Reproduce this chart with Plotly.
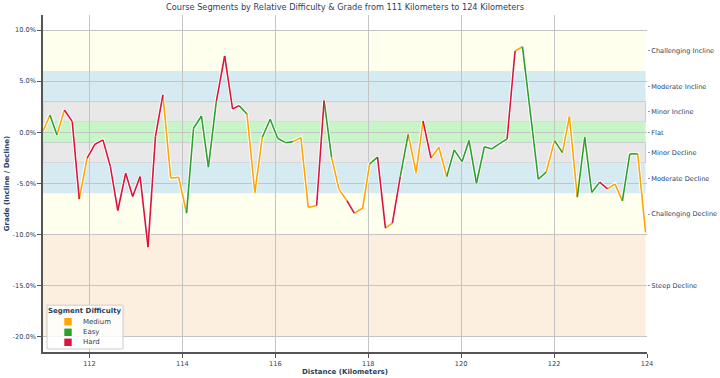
import plotly.graph_objects as go

# ---- data ----
distance_km = [111.00, 111.15, 111.30, 111.46, 111.63, 111.78, 111.95, 112.12, 112.29, 112.45,
               112.61, 112.78, 112.93, 113.09, 113.26, 113.42, 113.58, 113.75, 113.92, 114.09,
               114.24, 114.41, 114.56, 114.73, 114.91, 115.08, 115.22, 115.39, 115.56, 115.72,
               115.89, 116.05, 116.22, 116.38, 116.55, 116.71, 116.89, 117.05, 117.21, 117.37,
               117.54, 117.70, 117.88, 118.03, 118.20, 118.37, 118.52, 118.69, 118.86, 119.03,
               119.18, 119.35, 119.52, 119.69, 119.85, 120.02, 120.17, 120.33, 120.50, 120.66,
               120.82, 120.99, 121.16, 121.32, 121.66, 121.83, 122.01, 122.18, 122.33, 122.50,
               122.66, 122.81, 122.98, 123.15, 123.31, 123.47, 123.63, 123.80, 123.97]
grade_pct = [0.1, 1.69, -0.26, 2.18, 1.04, -6.55, -2.54, -1.17, -0.75, -3.36,
             -7.66, -4.01, -6.29, -4.34, -11.24, -0.43, 3.65, -4.5, -4.4, -7.92,
             0.39, 1.59, -3.42, 2.99, 7.46, 2.28, 2.6, 1.79, -5.9, -0.49,
             1.27, -0.59, -1.02, -0.92, -0.53, -7.37, -7.17, 3.09, -2.44, -5.57,
             -6.69, -7.92, -7.43, -3.1, -2.44, -9.38, -8.9, -4.34, -0.2, -3.95,
             1.1, -2.54, -1.47, -4.34, -1.73, -2.87, -0.82, -4.99, -1.41, -1.63,
             -1.14, -0.65, 7.95, 8.37, -4.6, -3.91, -0.82, -1.99, 1.52, -6.35,
             -0.49, -5.89, -4.89, -5.54, -5.05, -6.72, -2.12, -2.12, -9.81]
# difficulty of each segment (from point i to point i+1)
segment_difficulty = ["Medium", "Easy", "Medium", "Hard", "Hard", "Medium", "Hard", "Hard", "Hard", "Hard",
                      "Hard", "Hard", "Hard", "Hard", "Hard", "Hard", "Medium", "Medium", "Medium", "Easy",
                      "Easy", "Easy", "Easy", "Hard", "Hard", "Hard", "Easy", "Medium", "Medium", "Easy",
                      "Easy", "Easy", "Easy", "Medium", "Medium", "Medium", "Hard", "Easy", "Medium", "Medium",
                      "Hard", "Medium", "Medium", "Easy", "Hard", "Medium", "Hard", "Easy", "Medium", "Medium",
                      "Hard", "Medium", "Medium", "Easy", "Easy", "Easy", "Easy", "Easy", "Easy", "Easy",
                      "Easy", "Hard", "Medium", "Easy", "Easy", "Medium", "Easy", "Medium", "Medium", "Easy",
                      "Easy", "Easy", "Hard", "Medium", "Medium", "Easy", "Easy", "Medium"]
difficulty_order = ["Medium", "Easy", "Hard"]
difficulty_colors = {"Medium": "#FFA500", "Easy": "#2CA02C", "Hard": "#DC143C"}

band_names = ["Challenging Incline", "Moderate Incline", "Minor Incline", "Flat",
              "Minor Decline", "Moderate Decline", "Challenging Decline", "Steep Decline"]
band_low = [6, 3, 1, -1, -3, -6, -10, -20]
band_high = [10, 6, 3, 1, -1, -3, -6, -10]
band_label_pos = [8, 4.5, 2, 0, -2, -4.5, -8, -15]
band_fill = ["#FFFFEE", "#D5EAF1", "#E8E8E8", "#C8F5C8",
             "#E8E8E8", "#D5EAF1", "#FFFFEE", "#FDEFDF"]

y_ticks = [10, 5, 0, -5, -10, -15, -20]
y_tick_text = ["10.0%", "5.0%", "0.0%", "-5.0%", "-10.0%", "-15.0%", "-20.0%"]
x_ticks = [112, 114, 116, 118, 120, 122, 124]

TXT = "#2a3f5f"
FONT = "DejaVu Sans"
TICK = 6.6

fig = go.Figure()

# white halo underneath the whole line
fig.add_trace(go.Scatter(x=distance_km, y=grade_pct, mode="lines",
                         line=dict(color="white", width=3.5), hoverinfo="skip",
                         showlegend=False))

# coloured segments, grouped by difficulty
for diff in difficulty_order:
    xs, ys = [], []
    for i, d in enumerate(segment_difficulty):
        if d == diff:
            xs += [distance_km[i], distance_km[i + 1], None]
            ys += [grade_pct[i], grade_pct[i + 1], None]
    fig.add_trace(go.Scatter(x=xs, y=ys, mode="lines",
                             line=dict(color=difficulty_colors[diff], width=1.6),
                             showlegend=False, name=diff))

# dummy trace to show the right axis
fig.add_trace(go.Scatter(x=[None], y=[None], yaxis="y2", showlegend=False, hoverinfo="skip"))

# bands
for lo, hi, col, name in zip(band_low, band_high, band_fill, band_names):
    minor = name.startswith("Minor")
    fig.add_shape(type="rect", xref="x", yref="y", x0=111, x1=123.97, y0=lo, y1=hi,
                  fillcolor=col, layer="below",
                  line=dict(color="#C8CCD0" if minor else "rgba(0,0,0,0)", width=1))

# compact legend (box, title, swatches, labels)
fig.add_shape(type="rect", xref="paper", yref="paper", x0=0.0066, x1=0.1325, y0=0.009, y1=0.139,
              fillcolor="rgba(255,255,255,0.85)", line=dict(color="#CCCCCC", width=1), layer="above")
fig.add_annotation(text="<b>Segment Difficulty</b>", xref="paper", yref="paper",
                   x=0.0695, y=0.122, xanchor="center", yanchor="middle", showarrow=False,
                   font=dict(family=FONT, size=7, color=TXT))
legend_y = [0.0899, 0.0585, 0.0288]
for diff, ly in zip(difficulty_order, legend_y):
    fig.add_shape(type="rect", xref="paper", yref="paper", xsizemode="pixel", ysizemode="pixel",
                  xanchor=0.0414, yanchor=ly, x0=-3.7, x1=3.7, y0=-3.7, y1=3.7,
                  fillcolor=difficulty_colors[diff], line=dict(width=0), layer="above")
    fig.add_annotation(text=diff, xref="paper", yref="paper", x=0.0624, y=ly,
                       xanchor="left", yanchor="middle", showarrow=False,
                       font=dict(family=FONT, size=7, color=TXT))

yrange = [-21.5, 11.47]

fig.update_layout(
    width=720, height=378,
    margin=dict(l=43, r=73, t=15, b=26, autoexpand=False),
    paper_bgcolor="white", plot_bgcolor="white",
    font=dict(family=FONT, size=7, color=TXT),
    showlegend=False,
    title=dict(text="Course Segments by Relative Difficulty & Grade from 111 Kilometers to 124 Kilometers",
               x=0.5, xref="paper", xanchor="center", y=0.98, yanchor="middle",
               font=dict(family=FONT, size=8.2, color=TXT)),
    xaxis=dict(range=[111, 124], tickvals=x_ticks, ticks="outside", ticklen=4,
               tickcolor="#555", showgrid=True, gridcolor="#C4C4C4", gridwidth=1.2,
               showline=True, linecolor="#555", linewidth=1.5, zeroline=False,
               automargin=False, tickfont=dict(size=TICK, color=TXT),
               title=dict(text="<b>Distance (Kilometers)</b>", standoff=1,
                          font=dict(size=7, color=TXT))),
    yaxis=dict(range=yrange, tickvals=y_ticks, ticktext=y_tick_text, ticks="outside",
               ticklen=4, tickcolor="#555", showgrid=True, gridcolor="#C4C4C4", gridwidth=1,
               showline=True, linecolor="#555", linewidth=1.5, zeroline=False,
               automargin=False, tickfont=dict(size=TICK, color=TXT),
               title=dict(text="<b>Grade (Incline / Decline)</b>", standoff=2,
                          font=dict(size=7, color=TXT))),
    yaxis2=dict(range=yrange, overlaying="y", side="right", tickvals=band_label_pos,
                ticktext=band_names, ticks="outside", ticklen=2, tickcolor="#999",
                showgrid=False, showline=False, zeroline=False, automargin=False,
                tickfont=dict(size=TICK, color=TXT)),
)

fig.write_html("out.html", config={"displayModeBar": False},
               post_script="document.body.style.margin='0';document.body.style.padding='0';")
